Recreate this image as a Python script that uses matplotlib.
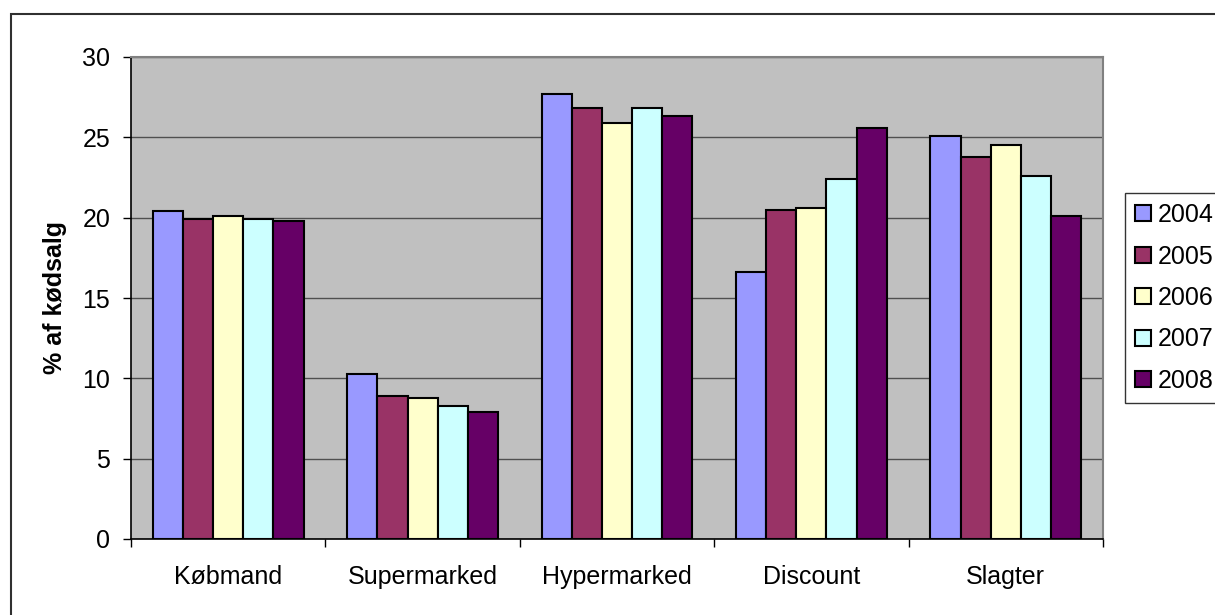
import numpy as np
import matplotlib
matplotlib.use("Agg")
import matplotlib.pyplot as plt
from matplotlib.patches import Rectangle

plt.rcParams['font.family'] = ['Liberation Sans', 'DejaVu Sans']

# Andel af kødsalg pr. butikstype og år (%)
butikstyper = ['Købmand', 'Supermarked', 'Hypermarked', 'Discount', 'Slagter']
aar = ['2004', '2005', '2006', '2007', '2008']
salg_2004 = [20.4, 10.3, 27.7, 16.6, 25.1]
salg_2005 = [19.9, 8.9, 26.8, 20.5, 23.8]
salg_2006 = [20.1, 8.8, 25.9, 20.6, 24.5]
salg_2007 = [19.9, 8.3, 26.8, 22.4, 22.6]
salg_2008 = [19.8, 7.9, 26.3, 25.6, 20.1]
farver = ['#9999FF', '#993366', '#FFFFCC', '#CCFFFF', '#660066']

serier = [salg_2004, salg_2005, salg_2006, salg_2007, salg_2008]

fig = plt.figure(figsize=(12.15, 6.15), dpi=100)
ax = fig.add_axes([131 / 1215, 1 - 539 / 615, (1103 - 131) / 1215, (539 - 57) / 615])
ax.set_facecolor('#C0C0C0')

x = np.arange(len(butikstyper))
w = 0.155
for j, (vals, farve, label) in enumerate(zip(serier, farver, aar)):
    ax.bar(x + (j - 2) * w, vals, width=w, color=farve, edgecolor='black',
           linewidth=1.5, label=label, zorder=3)

ax.set_xlim(-0.5, len(butikstyper) - 0.5)
ax.set_ylim(0, 30)
ax.set_yticks(np.arange(0, 31, 5))
ax.yaxis.grid(True, color='#505050', linewidth=1.0, zorder=0)
ax.set_axisbelow(True)

# kategorinavne i midten, tick-streger ved grænserne
ax.set_xticks(x)
ax.set_xticklabels(butikstyper)
ax.set_xticks(np.arange(-0.5, len(butikstyper)), minor=True)
ax.tick_params(axis='x', which='major', length=0, pad=19, labelsize=18)
ax.tick_params(axis='x', which='minor', length=6, width=1, color='black', direction='out')
ax.tick_params(axis='y', length=6, width=1, color='black', pad=9, labelsize=18)

for s in ['left', 'bottom']:
    ax.spines[s].set_color('black')
    ax.spines[s].set_linewidth(1.2)
for s in ['top', 'right']:
    ax.spines[s].set_color('#808080')
    ax.spines[s].set_linewidth(1.5)

ax.set_ylabel('% af kødsalg', fontsize=18, fontweight='bold', labelpad=11)

leg = fig.legend(loc='upper left', bbox_to_anchor=(1125 / 1215, 1 - 193 / 615),
                 fontsize=18, frameon=True, fancybox=False, edgecolor='black',
                 borderaxespad=0, borderpad=0.4, handlelength=0.64, handleheight=0.6,
                 handletextpad=0.28, labelspacing=0.7)
leg.get_frame().set_linewidth(1.0)

# ramme om hele diagrammet
fig.patches.append(Rectangle((11 / 1215, -0.1), 1.2, 1 - 14 / 615 + 0.1,
                             transform=fig.transFigure, fill=False,
                             edgecolor='#303030', linewidth=1.5))

fig.savefig('out.png', dpi=100)
